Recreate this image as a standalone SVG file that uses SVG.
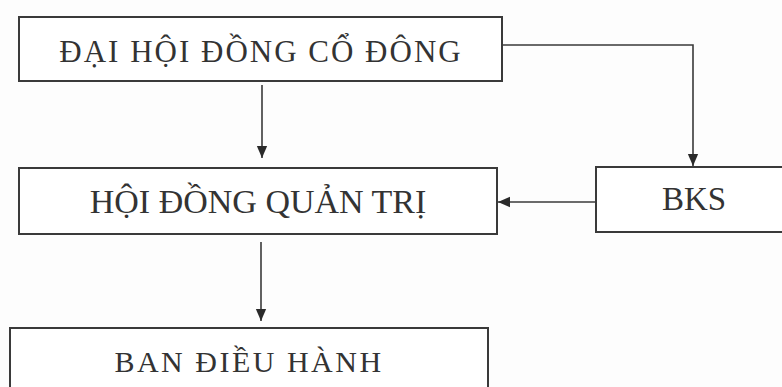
<svg xmlns="http://www.w3.org/2000/svg" width="782" height="387" viewBox="0 0 782 387">
<style>
.box{fill:#fff;stroke:#3a3a3a;stroke-width:2}
.t{font-family:"Liberation Serif","Times New Roman",serif;fill:#333;text-anchor:middle}
.c{fill:none;stroke:#3a3a3a;stroke-width:1.6}
</style>
<defs>
<marker id="ah" markerUnits="userSpaceOnUse" markerWidth="12" markerHeight="14" viewBox="0 0 14 12" refX="14" refY="6" orient="auto">
<path d="M0,0 L14,6 L0,12 Z" fill="#2a2a2a"/>
</marker>
</defs>
<rect width="782" height="387" fill="#fdfdfd"/>
<g id="dhdcd">
<rect class="box" x="19" y="17" width="483" height="64"/>
<text class="t" x="261" y="62" font-size="31" letter-spacing="2">ĐẠI HỘI ĐỒNG CỔ ĐÔNG</text>
</g>
<g id="hdqt">
<rect class="box" x="19" y="168" width="478" height="66"/>
<text class="t" x="258" y="213" font-size="34">HỘI ĐỒNG QUẢN TRỊ</text>
</g>
<g id="bks">
<rect class="box" x="596" y="167" width="200" height="65"/>
<text class="t" x="694" y="210" font-size="33">BKS</text>
</g>
<g id="bdh">
<rect class="box" x="10" y="328" width="478" height="70"/>
<text class="t" x="249" y="372" font-size="30" letter-spacing="2.5">BAN ĐIỀU HÀNH</text>
</g>
<g id="connectors">
<path class="c" d="M262,85 V158" marker-end="url(#ah)"/>
<path class="c" d="M502,45 H693 V166" marker-end="url(#ah)"/>
<path class="c" d="M596,202 H498" marker-end="url(#ah)"/>
<path class="c" d="M261,242 V321" marker-end="url(#ah)"/>
</g>
</svg>
